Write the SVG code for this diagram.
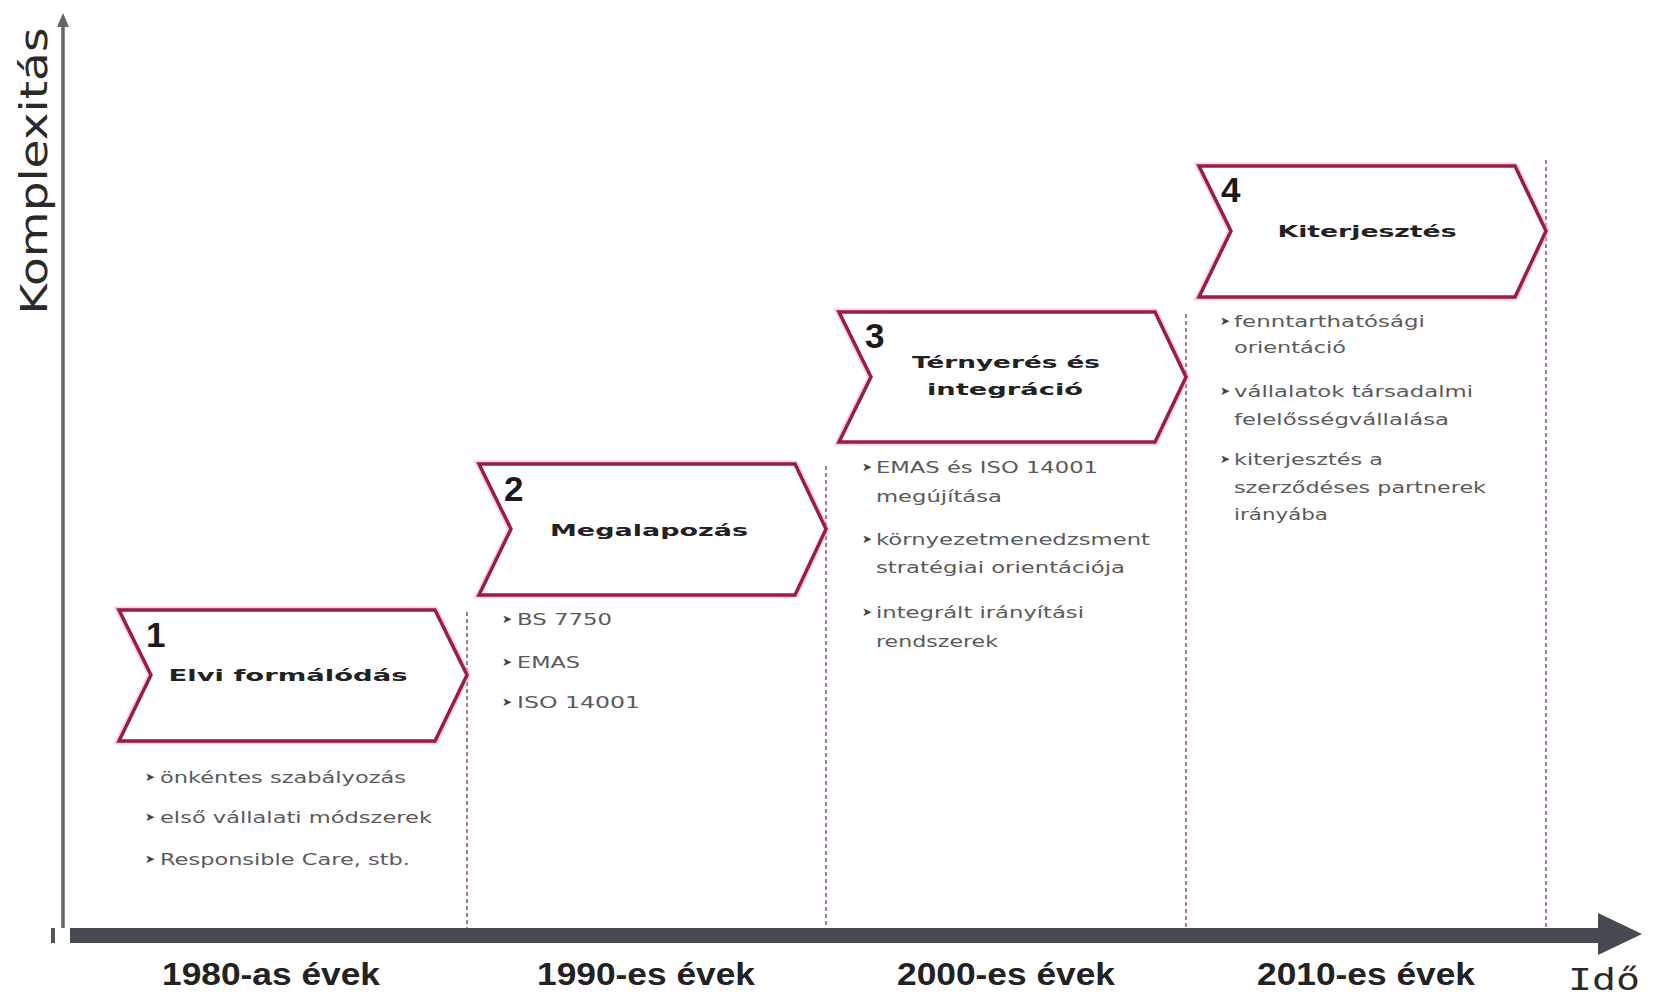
<svg xmlns="http://www.w3.org/2000/svg" width="1653" height="996" viewBox="0 0 1653 996">
  <defs>
    <style>
      .chev-halo { fill: none; stroke: #efb6ca; stroke-width: 7; stroke-linejoin: miter; opacity: 0.6; }
      .chev { fill: #ffffff; stroke: #9a1c47; stroke-width: 3.5; stroke-linejoin: miter; }
      .num { font-family: "Liberation Sans", Arial, sans-serif; font-weight: bold; font-size: 35px; fill: #1a1a1a; }
      .title { font-family: "DejaVu Sans", Verdana, sans-serif; font-weight: bold; font-size: 16px; fill: #222222; text-anchor: middle; }
      .item { font-family: "DejaVu Sans", Verdana, sans-serif; font-size: 15px; fill: #5a5a5a; }
      .bullet { font-family: "DejaVu Sans", sans-serif; font-size: 12px; fill: #444444; }
      .decade { font-family: "Liberation Sans", Arial, sans-serif; font-weight: bold; font-size: 32px; fill: #222222; text-anchor: middle; }
      .axis-label { font-family: "DejaVu Sans", Verdana, sans-serif; font-size: 37px; fill: #2a2a2a; }
      .divider { stroke: #6e3a52; stroke-width: 1.3; stroke-dasharray: 4 3; fill: none; }
    </style>
  </defs>

  <rect width="1653" height="996" fill="#ffffff"/>

  <!-- axes and period dividers -->
  <g id="connectors">
    <line class="divider" x1="467" y1="612" x2="467" y2="928"/>
    <line class="divider" x1="826" y1="466" x2="826" y2="928"/>
    <line class="divider" x1="1186" y1="314" x2="1186" y2="928"/>
    <line class="divider" x1="1546" y1="160" x2="1546" y2="928"/>

    <!-- vertical axis -->
    <line x1="63" y1="928" x2="63" y2="24" stroke="#666666" stroke-width="3.5"/>
    <polygon points="63,13 57,27 69,27" fill="#666666"/>

    <!-- time axis -->
    <rect x="51" y="928" width="4" height="15" fill="#555555"/>
    <rect x="70" y="928" width="1530" height="15" fill="#474a52"/>
    <polygon points="1598,913 1642,934 1598,955" fill="#474a52"/>
  </g>

  <!-- axis titles -->
  <text class="axis-label" transform="translate(47,171) rotate(-90)" text-anchor="middle" textLength="287" lengthAdjust="spacingAndGlyphs">Komplexitás</text>
  <text x="1568" y="990" font-family="'DejaVu Sans Mono', monospace" font-size="30" fill="#2a2a2a" textLength="72" lengthAdjust="spacingAndGlyphs">Idő</text>

  <!-- decades -->
  <text class="decade" x="271" y="985" textLength="218" lengthAdjust="spacingAndGlyphs">1980-as évek</text>
  <text class="decade" x="646" y="985" textLength="218" lengthAdjust="spacingAndGlyphs">1990-es évek</text>
  <text class="decade" x="1006" y="985" textLength="218" lengthAdjust="spacingAndGlyphs">2000-es évek</text>
  <text class="decade" x="1366" y="985" textLength="218" lengthAdjust="spacingAndGlyphs">2010-es évek</text>

  <!-- phase 1 -->
  <g id="phase1">
    <polygon class="chev-halo" points="119,610 435,610 467,675 435,741 119,741 151,675"/>
    <polygon class="chev" points="119,610 435,610 467,675 435,741 119,741 151,675"/>
    <text class="num" x="146" y="647">1</text>
    <text class="title" x="288" y="681" textLength="239" lengthAdjust="spacingAndGlyphs">Elvi formálódás</text>
    <text class="bullet" x="145" y="781">➤</text>
    <text class="item" x="160" y="783" textLength="246" lengthAdjust="spacingAndGlyphs">önkéntes szabályozás</text>
    <text class="bullet" x="145" y="821">➤</text>
    <text class="item" x="160" y="823" textLength="272" lengthAdjust="spacingAndGlyphs">első vállalati módszerek</text>
    <text class="bullet" x="145" y="863">➤</text>
    <text class="item" x="160" y="865" textLength="250" lengthAdjust="spacingAndGlyphs">Responsible Care, stb.</text>
  </g>

  <!-- phase 2 -->
  <g id="phase2">
    <polygon class="chev-halo" points="479,464 795,464 826,529 795,595 479,595 511,529"/>
    <polygon class="chev" points="479,464 795,464 826,529 795,595 479,595 511,529"/>
    <text class="num" x="504" y="501">2</text>
    <text class="title" x="649" y="536" textLength="198" lengthAdjust="spacingAndGlyphs">Megalapozás</text>
    <text class="bullet" x="502" y="623">➤</text>
    <text class="item" x="517" y="625" textLength="95" lengthAdjust="spacingAndGlyphs">BS 7750</text>
    <text class="bullet" x="502" y="666">➤</text>
    <text class="item" x="517" y="668" textLength="63" lengthAdjust="spacingAndGlyphs">EMAS</text>
    <text class="bullet" x="502" y="706">➤</text>
    <text class="item" x="517" y="708" textLength="123" lengthAdjust="spacingAndGlyphs">ISO 14001</text>
  </g>

  <!-- phase 3 -->
  <g id="phase3">
    <polygon class="chev-halo" points="839,312 1155,312 1186,377 1155,442 839,442 871,377"/>
    <polygon class="chev" points="839,312 1155,312 1186,377 1155,442 839,442 871,377"/>
    <text class="num" x="865" y="348">3</text>
    <text class="title" x="1006" y="368" textLength="188" lengthAdjust="spacingAndGlyphs">Térnyerés és</text>
    <text class="title" x="1005" y="395" textLength="156" lengthAdjust="spacingAndGlyphs">integráció</text>
    <text class="bullet" x="862" y="471">➤</text>
    <text class="item" x="876" y="473" textLength="222" lengthAdjust="spacingAndGlyphs">EMAS és ISO 14001</text>
    <text class="item" x="876" y="502" textLength="126" lengthAdjust="spacingAndGlyphs">megújítása</text>
    <text class="bullet" x="862" y="543">➤</text>
    <text class="item" x="876" y="545" textLength="274" lengthAdjust="spacingAndGlyphs">környezetmenedzsment</text>
    <text class="item" x="876" y="573" textLength="249" lengthAdjust="spacingAndGlyphs">stratégiai orientációja</text>
    <text class="bullet" x="862" y="616">➤</text>
    <text class="item" x="876" y="618" textLength="208" lengthAdjust="spacingAndGlyphs">integrált irányítási</text>
    <text class="item" x="876" y="647" textLength="122" lengthAdjust="spacingAndGlyphs">rendszerek</text>
  </g>

  <!-- phase 4 -->
  <g id="phase4">
    <polygon class="chev-halo" points="1199,166 1515,166 1546,231 1515,297 1199,297 1231,231"/>
    <polygon class="chev" points="1199,166 1515,166 1546,231 1515,297 1199,297 1231,231"/>
    <text class="num" x="1221" y="202">4</text>
    <text class="title" x="1367" y="237" textLength="179" lengthAdjust="spacingAndGlyphs">Kiterjesztés</text>
    <text class="bullet" x="1220" y="325">➤</text>
    <text class="item" x="1234" y="327" textLength="191" lengthAdjust="spacingAndGlyphs">fenntarthatósági</text>
    <text class="item" x="1234" y="353" textLength="112" lengthAdjust="spacingAndGlyphs">orientáció</text>
    <text class="bullet" x="1220" y="395">➤</text>
    <text class="item" x="1234" y="397" textLength="239" lengthAdjust="spacingAndGlyphs">vállalatok társadalmi</text>
    <text class="item" x="1234" y="425" textLength="215" lengthAdjust="spacingAndGlyphs">felelősségvállalása</text>
    <text class="bullet" x="1220" y="463">➤</text>
    <text class="item" x="1234" y="465" textLength="149" lengthAdjust="spacingAndGlyphs">kiterjesztés a</text>
    <text class="item" x="1234" y="493" textLength="252" lengthAdjust="spacingAndGlyphs">szerződéses partnerek</text>
    <text class="item" x="1234" y="520" textLength="94" lengthAdjust="spacingAndGlyphs">irányába</text>
  </g>
</svg>
